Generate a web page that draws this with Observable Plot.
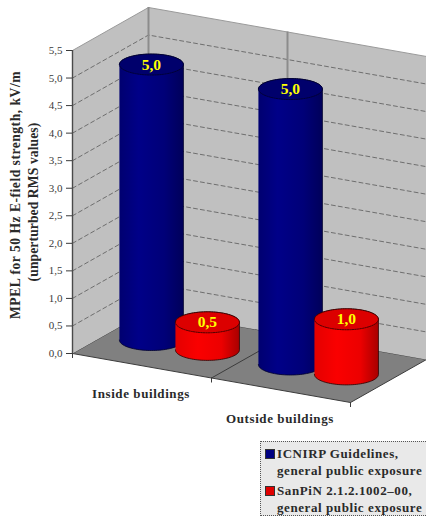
<!DOCTYPE html>
<html>
<head>
<meta charset="utf-8">
<script src="https://cdn.jsdelivr.net/npm/d3@7"></script>
<script src="https://cdn.jsdelivr.net/npm/@observablehq/plot@0.6"></script>
<style>
  html, body { margin: 0; padding: 0; background: #fff; overflow: hidden; }
  svg { display: block; }
  .spaced { letter-spacing: 0.58px; }
  .title-main { letter-spacing: 0.5px; }
  .title-sub { letter-spacing: 0.1px; }
  .legend {
    box-sizing: border-box; position: absolute; left: 260px; top: 441px; width: 166px; height: 75px;
    background: #e9e9e9; border: 1px dotted #555; border-right: none;
    font: bold 13px "Liberation Serif", serif; letter-spacing: 0.58px; color: #2a2a2a;
    line-height: 17px; padding-top: 3px;
  }
  .legend div { position: relative; padding-left: 16px; white-space: nowrap; }
  .legend div + div { margin-top: 3px; }
  .legend i { position: absolute; left: 4px; top: 4px; width: 8px; height: 8px; border: 1px solid #333; }
</style>
</head>
<body>
<div id="chart"></div>
<script>
// Values of the chart
const categories = ["Inside buildings", "Outside buildings"];
const icnirpValues = [5.0, 5.0];
const sanpinValues = [0.5, 1.0];
const valueTicks = [0, 0.5, 1, 1.5, 2, 2.5, 3, 3.5, 4, 4.5, 5, 5.5];
const axisTitle = ["MPEL for 50 Hz E-field strength, kV/m", "(unperturbed RMS values)"];
const legendEntries = [
  ["ICNIRP Guidelines,", "general public exposure", "#000080"],
  ["SanPiN 2.1.2.1002–00,", "general public exposure", "#e00000"]
];

// Oblique box: pixels per unit along each axis of the box
const categorySpan = {dx: 278, dy: 49};
const depthSpan = {dx: 76, dy: 43};
const pxPerValue = 55.09;

// Shear a box position (category c, depth d, value v) into the x and y scale domains
const sx = (c, d) => c + d * depthSpan.dx / categorySpan.dx;
const sy = (c, d, v) => v + (depthSpan.dy * d - categorySpan.dy * c) / pxPerValue;
const pt = (c, d, v) => ({x: sx(c, d), y: sy(c, d, v)});

// Cylinder layout inside the box
const barDepth = 0.486;
const categoryOrigin = [0.151, 0.651];
const seriesGap = 0.2015;
const radiusX = 32 / categorySpan.dx;
const radiusY = 10.5 / pxPerValue;

const fmt = (v) => v.toFixed(1).replace(".", ",");

function ellipse(c, v, from, to, n = 48) {
  return d3.range(n + 1).map((i) => {
    const t = from + (to - from) * i / n;
    return {x: sx(c, barDepth) + radiusX * Math.cos(t), y: sy(c, barDepth, v) + radiusY * Math.sin(t)};
  });
}

function cylinder(c, v, side, top, edge) {
  const body = [...ellipse(c, 0, Math.PI, 2 * Math.PI), ...ellipse(c, v, 0, Math.PI)];
  return [
    Plot.line(body, {x: "x", y: "y", fill: side, stroke: edge, strokeWidth: 0.8, curve: "linear"}),
    Plot.line(ellipse(c, v, 0, 2 * Math.PI), {x: "x", y: "y", fill: top, stroke: edge, strokeWidth: 0.8, strokeDasharray: "1.5,1", curve: "linear"}),
    Plot.text([fmt(v)], {
      x: () => sx(c, barDepth), y: () => sy(c, barDepth, v), text: (d) => d,
      fill: "#ffff00", fontSize: 15.5, fontWeight: "bold", fontFamily: "Liberation Serif"
    })
  ];
}

const cylinders = categories.flatMap((_, i) => [
  ...cylinder(categoryOrigin[i], icnirpValues[i], "url(#blueSide)", "#00006c", "#00002a"),
  ...cylinder(categoryOrigin[i] + seriesGap, sanpinValues[i], "url(#redSide)", "#dc0000", "#2a0000")
]);

const gridlines = valueTicks.slice(1, -1).flatMap((v) =>
  [pt(0, 0, v), pt(0, 1, v), pt(1, 1, v)].map((p) => ({...p, v}))
);

const titleLine = (text, dx, dy, className) => Plot.text([text], {
  x: () => 0, y: () => 2.75, text: (d) => d, rotate: -90, dx, dy,
  fontSize: 13.6, fontWeight: "bold", fontFamily: "Liberation Serif", fill: "#2a2a2a", className
});

const plot = Plot.plot({
  width: 426,
  height: 436,
  marginLeft: 72,
  marginRight: 0,
  marginTop: 0,
  marginBottom: 0,
  style: {background: "transparent", color: "#3a3a3a", fontFamily: "Liberation Serif"},
  x: {domain: [0, sx(1, 1)], range: [72, 426], axis: null},
  y: {domain: [0, 5.5], range: [353, 50], axis: null},
  marks: [
    // Floor and walls
    Plot.line([pt(0, 0, 0), pt(1, 0, 0), pt(1, 1, 0), pt(0, 1, 0), pt(0, 0, 0)],
      {x: "x", y: "y", fill: "#808080", stroke: "#3c3c3c", strokeWidth: 1}),
    Plot.line([pt(0, 0, 0), pt(0, 1, 0), pt(0, 1, 5.5), pt(0, 0, 5.5)],
      {x: "x", y: "y", fill: "#c0c0c0"}),
    Plot.line([pt(0, 1, 0), pt(1, 1, 0), pt(1, 1, 5.5), pt(0, 1, 5.5)],
      {x: "x", y: "y", fill: "#c0c0c0"}),
    Plot.line([pt(0, 0, 5.5), pt(0, 1, 5.5), pt(1, 1, 5.5)],
      {x: "x", y: "y", stroke: "#9a9a9a", strokeWidth: 1}),
    // Dashed value gridlines across both walls
    Plot.line(gridlines, {x: "x", y: "y", z: "v", stroke: "#6e6e6e", strokeWidth: 1, strokeDasharray: "4,3"}),
    // Wall corner and the divider between the two categories
    Plot.ruleX([0], {x: () => sx(0, 1), y1: () => sy(0, 1, 0), y2: () => sy(0, 1, 5.5), stroke: "#8c8c8c", strokeWidth: 2}),
    Plot.ruleX([0.5], {x: (c) => sx(c, 1), y1: (c) => sy(c, 1, 0), y2: (c) => sy(c, 1, 5.5), stroke: "#8c8c8c", strokeWidth: 2}),
    Plot.line([pt(0.5, 0, 0), pt(0.5, 1, 0)], {x: "x", y: "y", stroke: "#3c3c3c", strokeWidth: 1}),
    // Category ticks along the front edge of the floor
    Plot.ruleX([0, 0.5, 1], {x: (c) => sx(c, 0), y1: (c) => sy(c, 0, 0), y2: (c) => sy(c, 0, 0) - 5 / pxPerValue, stroke: "#3c3c3c", strokeWidth: 1}),
    // Value axis
    Plot.ruleX([0], {x: () => 0, y1: 0, y2: 5.5, stroke: "#4a4a4a", strokeWidth: 1.4}),
    Plot.axisY({
      ticks: valueTicks, tickFormat: fmt, tickSize: 6, tickPadding: 4, label: null,
      fontSize: 11, fontFamily: "Liberation Serif"
    }),
    ...cylinders,
    // Category names under the floor
    Plot.text(categories, {
      x: (_, i) => sx(0.25 + i * 0.5, 0), y: (_, i) => sy(0.25 + i * 0.5, 0, 0), text: (d) => d,
      dy: 28.5, dx: -1, fontSize: 13, fontWeight: "bold", fontFamily: "Liberation Serif", fill: "#2a2a2a",
      className: "spaced"
    }),
    // Value axis title, two rotated lines
    titleLine(axisTitle[0], -57, -7, "title-main"),
    titleLine(axisTitle[1], -39, 0, "title-sub")
  ]
});

// Horizontal shading of the cylinder sides
const defs = d3.select(plot).insert("defs", ":first-child");
for (const [id, stops] of [
  ["blueSide", [[0, "#000070"], [0.3, "#000088"], [0.7, "#000078"], [1, "#00005a"]]],
  ["redSide", [[0, "#e40000"], [0.35, "#fa0000"], [0.72, "#ec0000"], [1, "#a80000"]]]
]) {
  const g = defs.append("linearGradient").attr("id", id);
  for (const [o, col] of stops) g.append("stop").attr("offset", o).attr("stop-color", col);
}
document.getElementById("chart").append(plot);

// Legend below the plot
const legend = d3.select("body").append("div").attr("class", "legend");
for (const [a, b, col] of legendEntries) {
  const row = legend.append("div");
  row.append("i").style("background", col);
  row.append("span").html(a + "<br>" + b);
}
</script>
</body>
</html>
